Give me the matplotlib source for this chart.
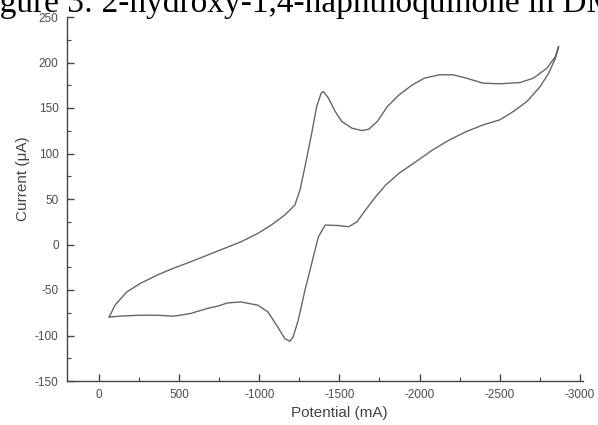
import numpy as np
import matplotlib.pyplot as plt
from matplotlib.ticker import MultipleLocator

plt.rcParams["axes.unicode_minus"] = False

# forward scan (towards negative potential), mV / uA
fwd_E = [-64, -99, -173, -257, -362, -446, -571, -676, -782, -886, -991, -1075,
         -1159, -1222, -1254, -1285, -1327, -1358, -1386, -1400, -1432, -1474,
         -1515, -1578, -1641, -1683, -1736, -1799, -1872, -1956, -2030, -2124,
         -2208, -2292, -2396, -2501, -2627, -2711, -2795, -2848, -2868]
fwd_I = [-79.6, -66.7, -52.1, -42.8, -33.7, -27.4, -19.0, -11.7, -4.3, 3.0, 12.2,
         21.4, 32.4, 43.4, 59.9, 85.5, 122.3, 151.6, 166.3, 168.1, 160.8, 146.1,
         135.1, 127.8, 125.2, 126.7, 135.1, 151.6, 164.4, 175.5, 182.8, 186.5,
         186.5, 182.8, 177.3, 176.6, 178.0, 182.8, 193.8, 206.6, 217.6]

# reverse scan back to start
rev_E = [-2848, -2806, -2753, -2670, -2585, -2501, -2396, -2292, -2187, -2082,
         -1977, -1872, -1789, -1726, -1663, -1610, -1558, -1495, -1411, -1369,
         -1358, -1327, -1285, -1243, -1211, -1191, -1159, -1115, -1054, -991,
         -886, -802, -739, -676, -571, -467, -362, -257, -152, -64]
rev_I = [204.8, 188.3, 173.6, 157.1, 146.1, 137.0, 131.4, 124.1, 115.0, 104.0,
         91.0, 78.3, 65.4, 52.5, 37.9, 25.0, 19.5, 20.8, 21.4, 8.5, 1.2, -20.8,
         -50.2, -83.2, -101.6, -106.3, -103.4, -90.6, -74.1, -66.7, -63.1, -64.2,
         -67.8, -70.3, -75.8, -78.8, -77.7, -77.7, -78.5, -79.6]

x_ticks = [0, -500, -1000, -1500, -2000, -2500, -3000]
x_labels = ["0", "500", "-1000", "-1500", "-2000", "-2500", "-3000"]
y_ticks = [-150, -100, -50, 0, 50, 100, 150, 200, 250]

title_text = "Figure 3: 2-hydroxy-1,4-naphthoquinone in DMSO"

fig = plt.figure(figsize=(5.98, 4.25), dpi=100)
ax = fig.add_axes([67 / 598, 1 - 381 / 425, (583 - 67) / 598, (381 - 17) / 425])

E = fwd_E + rev_E
I = fwd_I + rev_I
ax.plot(E, I, color="#666666", lw=1.0)

ax.set_xlim(200, -3020)
ax.set_ylim(-150, 250)
ax.set_xticks(x_ticks)
ax.set_xticklabels(x_labels)
ax.set_yticks(y_ticks)
ax.xaxis.set_minor_locator(MultipleLocator(250))
ax.yaxis.set_minor_locator(MultipleLocator(25))

for s in ["top", "right"]:
    ax.spines[s].set_visible(False)
for s in ["left", "bottom"]:
    ax.spines[s].set_color("#444444")
    ax.spines[s].set_linewidth(1.0)

ax.tick_params(which="both", direction="in", colors="#444444", labelcolor="#4d4d4d",
               labelsize=8.5)
ax.tick_params(which="major", length=5, width=1.0)
ax.tick_params(which="minor", length=3, width=0.8)
ax.tick_params(axis="y", which="major", pad=6)
ax.tick_params(axis="x", which="major", pad=6)
for lab in ax.get_xticklabels() + ax.get_yticklabels():
    lab.set_family("Liberation Sans")

ax.set_xlabel("Potential (mA)", fontsize=11, color="#444444", family="Liberation Sans")
ax.set_ylabel("Current (\u03bcA)", fontsize=11, color="#444444", family="Liberation Sans")
ax.xaxis.set_label_coords(0.528, -0.068)
ax.yaxis.set_label_coords(-0.072, 0.555)

# caption of the page, cut at the top edge; shift so that "Fi" is off the left side
renderer = fig.canvas.get_renderer()
probe = fig.text(0, 0, "Fi", fontsize=24, family="Liberation Serif")
fi_w = probe.get_window_extent(renderer).width
probe.remove()
fig.text(-fi_w / fig.bbox.width, 1 - 12 / 425, title_text, fontsize=24,
         family="Liberation Serif", color="black", ha="left", va="baseline")

fig.savefig("out.png", dpi=100)
